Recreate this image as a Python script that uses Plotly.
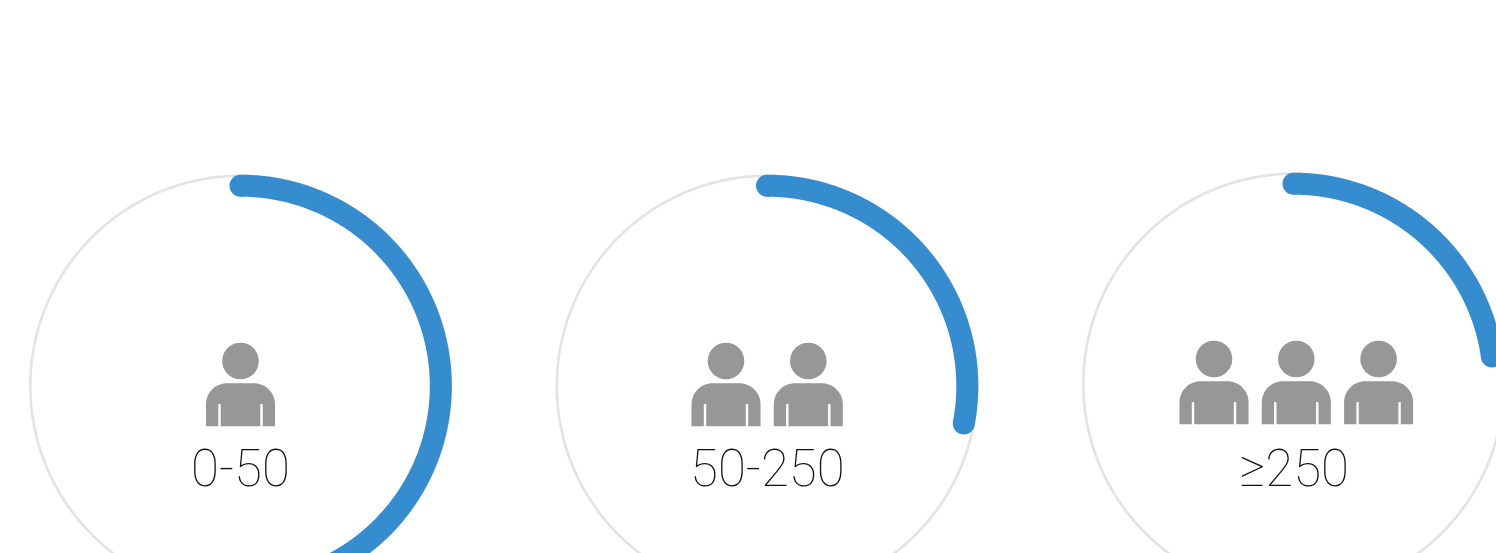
import numpy as np
import plotly.graph_objects as go

# Data
categories = ["0-50", "50-250", "≥250"]
shares = [0.45, 0.28, 0.228]
people_counts = [1, 2, 3]

W, H = 1496, 553
BLUE = "#358dd0"
TRACK = "#e3e3e3"
GREY = "#979797"

centres = [(240.5, 386), (767, 386), (1293.5, 384)]
first_person_x = [240.5, 726, 1214]
person_step = 82.3
R = 200.3
R_TRACK = 210.2
BLUE_W = 22


def arc(cx, cy, r, frac):
    t = np.linspace(0, 2 * np.pi * frac, 400)
    return cx + r * np.sin(t), cy - r * np.cos(t)


def body_path(x, y):
    # y is the top of the torso
    l, r, b, c = x - 34.5, x + 34.5, y + 43, 21
    k = c * 0.45
    return (f"M{l},{b} L{l},{y + c} C{l},{y + k} {l + k},{y} {l + c},{y} L{r - c},{y} "
            f"C{r - k},{y} {r},{y + k} {r},{y + c} L{r},{b} Z")


fig = go.Figure()
shapes = []
for i, cat in enumerate(categories):
    cx, cy = centres[i]
    x, y = arc(cx, cy, R_TRACK, 1)
    fig.add_trace(go.Scatter(x=x, y=y, mode="lines", name=f"{cat} track",
                             line=dict(color=TRACK, width=2.6, simplify=False), hoverinfo="skip"))
    x, y = arc(cx, cy, R, shares[i])
    fig.add_trace(go.Scatter(x=x, y=y, mode="lines", name=cat,
                             line=dict(color=BLUE, width=BLUE_W, simplify=False), hoverinfo="skip"))
    fig.add_trace(go.Scatter(x=[x[0], x[-1]], y=[y[0], y[-1]], mode="markers",
                             marker=dict(color=BLUE, size=BLUE_W, line=dict(width=0)),
                             hoverinfo="skip"))
    dy = cy - 386
    for k in range(people_counts[i]):
        px = first_person_x[i] + k * person_step
        shapes.append(dict(type="circle", xref="x", yref="y", x0=px - 18.3, x1=px + 18.3,
                           y0=361 + dy - 18.3, y1=361 + dy + 18.3,
                           fillcolor=GREY, line=dict(width=0)))
        shapes.append(dict(type="path", xref="x", yref="y", path=body_path(px, 383.3 + dy),
                           fillcolor=GREY, line=dict(width=0)))
        for side in (-1, 1):
            sx = px + side * 21
            shapes.append(dict(type="rect", xref="x", yref="y", x0=sx - 1.2, x1=sx + 1.2,
                               y0=404 + dy, y1=427 + dy, fillcolor="white", line=dict(width=0)))

annotations = [
    dict(x=lx, y=468, xref="x", yref="y", text=cat, showarrow=False,
         xanchor="center", yanchor="middle",
         font=dict(family="Roboto", size=51, color="#111111", weight=100))
    for cat, lx in zip(categories, [240, 767.2, 1293.5])
]

fig.update_layout(
    width=W, height=H, margin=dict(l=0, r=0, t=0, b=0),
    paper_bgcolor="white", plot_bgcolor="white", showlegend=False,
    shapes=shapes, annotations=annotations,
    xaxis=dict(range=[0, W], visible=False, fixedrange=True),
    yaxis=dict(range=[H, 0], visible=False, fixedrange=True),
)
fig.write_html("out.html", config={"displayModeBar": False},
               post_script="document.body.style.margin='0';document.body.style.overflow='hidden';")
